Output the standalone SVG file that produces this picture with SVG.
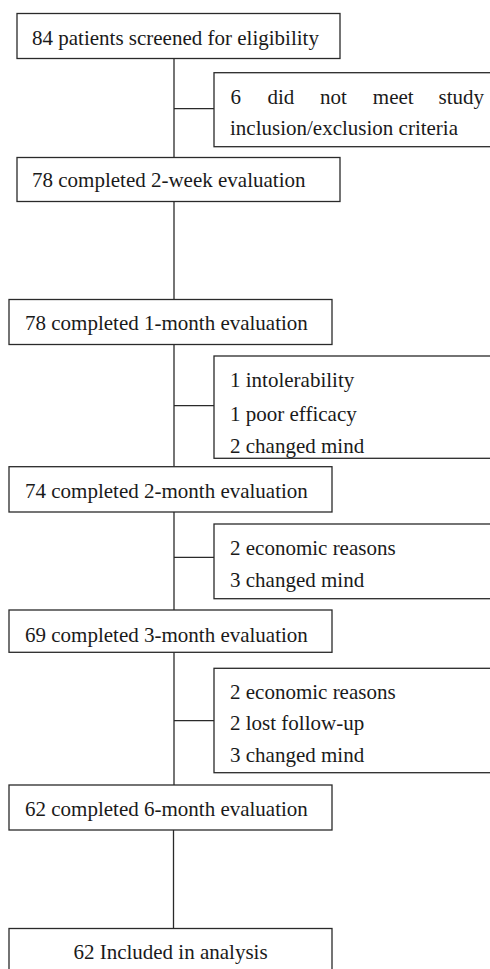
<svg xmlns="http://www.w3.org/2000/svg" width="490" height="969" viewBox="0 0 490 969">
<style>
rect{fill:#fff;stroke:#2a2a2a;stroke-width:1.3}
line{stroke:#2a2a2a;stroke-width:1.3}
text{font-family:"Liberation Serif","Times New Roman",serif;font-size:21px;fill:#1a1a1a}
</style>
<rect x="0" y="0" width="490" height="969" style="stroke:none"/>
<g id="connectors">
<line x1="174" y1="58.5" x2="174" y2="157.5"/>
<line x1="174" y1="108.7" x2="214" y2="108.7"/>
<line x1="174" y1="201.5" x2="174" y2="299.5"/>
<line x1="174" y1="344.5" x2="174" y2="466.5"/>
<line x1="174" y1="405.7" x2="214" y2="405.7"/>
<line x1="174" y1="512" x2="174" y2="610"/>
<line x1="174" y1="557.3" x2="214" y2="557.3"/>
<line x1="174" y1="652.3" x2="174" y2="785"/>
<line x1="174" y1="720.7" x2="214" y2="720.7"/>
<line x1="173.5" y1="830" x2="173.5" y2="928.5"/>
</g>
<g id="n1"><rect x="17" y="13.5" width="323" height="45"/><text x="32" y="44.5">84 patients screened for eligibility</text></g>
<g id="n2"><rect x="214" y="72.7" width="280" height="74"/><text y="103.5"><tspan x="230.5">6</tspan><tspan x="267.5">did</tspan><tspan x="320">not</tspan><tspan x="372.8">meet</tspan><tspan x="438.5">study</tspan></text><text x="230" y="135">inclusion/exclusion criteria</text></g>
<g id="n3"><rect x="17" y="157.5" width="323" height="44"/><text x="32" y="187">78 completed 2-week evaluation</text></g>
<g id="n4"><rect x="9" y="299.5" width="323" height="45"/><text x="25" y="330.3">78 completed 1-month evaluation</text></g>
<g id="n5"><rect x="214" y="356" width="280" height="102.3"/><text x="230" y="387">1 intolerability</text><text x="230" y="420.5">1 poor efficacy</text><text x="230" y="453">2 changed mind</text></g>
<g id="n6"><rect x="9" y="466.7" width="323" height="45.3"/><text x="25" y="498">74 completed 2-month evaluation</text></g>
<g id="n7"><rect x="214" y="524" width="280" height="74.7"/><text x="230" y="555">2 economic reasons</text><text x="230" y="586.7">3 changed mind</text></g>
<g id="n8"><rect x="9" y="610" width="323" height="42.3"/><text x="25" y="641.7">69 completed 3-month evaluation</text></g>
<g id="n9"><rect x="214" y="668.3" width="280" height="104.4"/><text x="230" y="698.5">2 economic reasons</text><text x="230" y="730">2 lost follow-up</text><text x="230" y="762">3 changed mind</text></g>
<g id="n10"><rect x="9" y="785" width="323" height="45"/><text x="25" y="815.5">62 completed 6-month evaluation</text></g>
<g id="n11"><rect x="9" y="928.5" width="323" height="50"/><text x="170.5" y="959" text-anchor="middle">62 Included in analysis</text></g>
</svg>
